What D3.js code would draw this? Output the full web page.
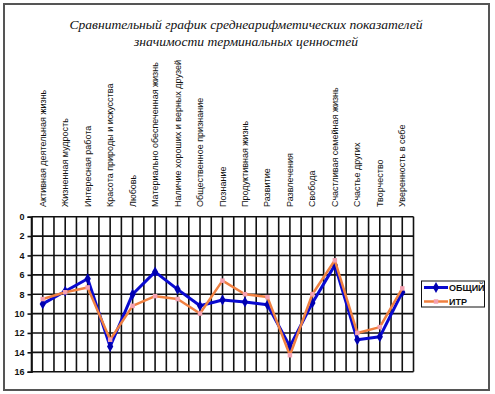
<!DOCTYPE html>
<html><head><meta charset="utf-8">
<script src="https://cdn.jsdelivr.net/npm/d3@7"></script>
<style>body{margin:0;background:#fff}svg{display:block}</style>
</head><body>
<script>
const categories = ["Активная деятельная жизнь","Жизненная мудрость","Интересная работа","Красота природы и искусства","Любовь","Материально обеспеченная жизнь","Наличие хороших и верных друзей","Общественное признание","Познание","Продуктивная жизнь","Развитие","Развлечения","Свобода","Счастливая семейная жизнь","Счастье других","Творчество","Уверенность в себе"];
const obshchiy = [9.0,7.7,6.4,13.4,8.0,5.7,7.5,9.2,8.6,8.8,9.1,13.4,8.9,5.0,12.7,12.4,7.8];
const itr      = [8.5,7.8,7.3,12.7,9.2,8.2,8.5,10.0,6.6,8.0,8.3,14.3,8.0,4.5,12.0,11.4,7.4];
const seriesNames = ["ОБЩИЙ","ИТР"];
const yTicks = [0,2,4,6,8,10,12,14,16];
const titleLines = ["Сравнительный график среднеарифметических показателей","значимости терминальных ценностей"];

const W=495,H=394;
const svg=d3.select("body").append("svg").attr("width",W).attr("height",H);
svg.append("rect").attr("x",4).attr("y",4).attr("width",485).attr("height",386)
  .attr("fill","#fff").attr("stroke","#555").attr("stroke-width",2);

const x=d3.scalePoint().domain(categories).range([31.5,413.5]).padding(0.5);
const y=d3.scaleLinear().domain([0,16]).range([216.7,371.7]);
const step=x.step();

// title
svg.selectAll("text.title").data(titleLines).enter().append("text")
  .attr("x",246).attr("y",(d,i)=>29+i*17).attr("text-anchor","middle")
  .attr("font-family","Liberation Serif").attr("font-style","italic").attr("font-size",13)
  .attr("textLength",(d,i)=>i?224:353).attr("lengthAdjust","spacingAndGlyphs")
  .attr("fill","#111").text(d=>d);

// gridlines
const g=svg.append("g");
const vx=[];
categories.forEach(c=>{vx.push(x(c)-step/2);vx.push(x(c));});
vx.push(x(categories[categories.length-1])+step/2);
g.selectAll("line.v").data(vx).enter().append("line")
  .attr("x1",d=>d).attr("x2",d=>d).attr("y1",y(0)).attr("y2",y(16))
  .attr("stroke","#111").attr("stroke-width",1.6);
g.selectAll("line.h").data(yTicks).enter().append("line")
  .attr("x1",x.range()[0]).attr("x2",x.range()[1]).attr("y1",d=>y(d)).attr("y2",d=>y(d))
  .attr("stroke","#111").attr("stroke-width",1.6);

// y axis
const ya=svg.append("g").attr("transform",`translate(${x.range()[0]},0)`)
  .call(d3.axisLeft(y).tickValues(yTicks).tickSize(4).tickPadding(3));
ya.select(".domain").attr("stroke","#111").attr("stroke-width",1.6);
ya.selectAll(".tick line").attr("stroke","#111").attr("stroke-width",1.6);
ya.selectAll("text").attr("font-family","Liberation Sans").attr("font-size",9).attr("font-weight","bold").attr("fill","#111");

// category labels
svg.selectAll("text.cat").data(categories).enter().append("text")
  .attr("transform",d=>`translate(${x(d)+3},207) rotate(-90)`)
  .attr("font-family","Liberation Sans").attr("font-size",9).attr("fill","#111")
  .text(d=>d);

// lines
const line=d3.line().x((d,i)=>x(categories[i])).y(d=>y(d));
const cfg=[{data:obshchiy,color:"#0a0ad0",w:3,mk:"#0000b0",sym:d3.symbolDiamond,size:34},
           {data:itr,color:"#f08040",w:2.5,mk:"#f4a0b0",sym:d3.symbolSquare,size:20}];
cfg.forEach(s=>{
  svg.append("path").attr("d",line(s.data)).attr("fill","none").attr("stroke",s.color)
    .attr("stroke-width",s.w).attr("stroke-linejoin","round");
  svg.selectAll(null).data(s.data).enter().append("path")
    .attr("d",d3.symbol().type(s.sym).size(s.size))
    .attr("transform",(d,i)=>`translate(${x(categories[i])},${y(d)})`)
    .attr("fill",s.mk);
});

// legend
const lg=svg.append("g");
lg.append("rect").attr("x",421.5).attr("y",281).attr("width",63).attr("height",26)
  .attr("fill","#fff").attr("stroke","#111").attr("stroke-width",1);
cfg.forEach((s,i)=>{
  const yy=287.5+i*14;
  lg.append("line").attr("x1",424).attr("x2",448).attr("y1",yy).attr("y2",yy)
    .attr("stroke",s.color).attr("stroke-width",s.w);
  lg.append("path").attr("d",d3.symbol().type(s.sym).size(s.size))
    .attr("transform",`translate(436,${yy})`).attr("fill",s.mk);
  lg.append("text").attr("x",449).attr("y",yy+3.5).attr("font-family","Liberation Sans")
    .attr("font-size",9).attr("font-weight","bold").attr("fill","#111").text(seriesNames[i]);
});
</script>
</body></html>
